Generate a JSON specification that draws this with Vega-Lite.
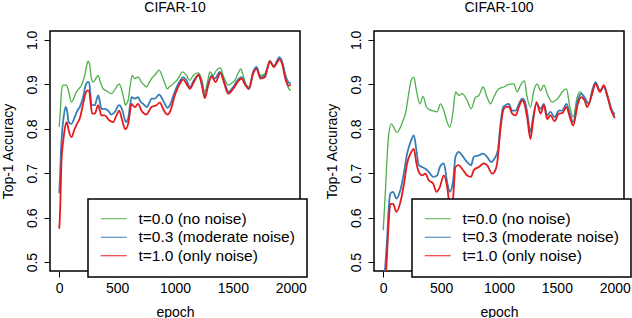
{
"$schema": "https://vega.github.io/schema/vega-lite/v6.json",
"padding": {"left": 0, "top": 0, "right": 0, "bottom": 0},
"background": "white",
"config": {
  "font": "Liberation Sans",
  "view": {"stroke": "black", "strokeWidth": 1.5},
  "title": {"font": "Liberation Sans", "fontSize": 14, "fontWeight": "normal", "color": "black", "offset": 15, "frame": "group", "anchor": "middle"},
  "axis": {"grid": false, "domain": false, "tickColor": "black", "tickSize": 6, "tickWidth": 1, "labelFont": "Liberation Sans", "labelFontSize": 14, "labelColor": "black", "titleFont": "Liberation Sans", "titleFontSize": 14, "titleFontWeight": "normal", "titleColor": "black", "labelFlush": false, "labelOverlap": false},
  "legend": {"strokeWidth": 1.5}
},
"datasets": {
"c10": [
{"t":"t=0.0 (no noise)","epoch":0,"acc":0.804},{"t":"t=0.0 (no noise)","epoch":10,"acc":0.845},{"t":"t=0.0 (no noise)","epoch":20,"acc":0.885},{"t":"t=0.0 (no noise)","epoch":33,"acc":0.898},{"t":"t=0.0 (no noise)","epoch":61,"acc":0.898},{"t":"t=0.0 (no noise)","epoch":80,"acc":0.885},{"t":"t=0.0 (no noise)","epoch":105,"acc":0.860},{"t":"t=0.0 (no noise)","epoch":125,"acc":0.868},{"t":"t=0.0 (no noise)","epoch":148,"acc":0.883},{"t":"t=0.0 (no noise)","epoch":170,"acc":0.890},{"t":"t=0.0 (no noise)","epoch":192,"acc":0.898},{"t":"t=0.0 (no noise)","epoch":215,"acc":0.915},{"t":"t=0.0 (no noise)","epoch":235,"acc":0.940},{"t":"t=0.0 (no noise)","epoch":249,"acc":0.952},{"t":"t=0.0 (no noise)","epoch":262,"acc":0.945},{"t":"t=0.0 (no noise)","epoch":278,"acc":0.913},{"t":"t=0.0 (no noise)","epoch":292,"acc":0.905},{"t":"t=0.0 (no noise)","epoch":307,"acc":0.909},{"t":"t=0.0 (no noise)","epoch":336,"acc":0.920},{"t":"t=0.0 (no noise)","epoch":355,"acc":0.905},{"t":"t=0.0 (no noise)","epoch":379,"acc":0.890},{"t":"t=0.0 (no noise)","epoch":410,"acc":0.885},{"t":"t=0.0 (no noise)","epoch":451,"acc":0.879},{"t":"t=0.0 (no noise)","epoch":480,"acc":0.888},{"t":"t=0.0 (no noise)","epoch":517,"acc":0.901},{"t":"t=0.0 (no noise)","epoch":537,"acc":0.890},{"t":"t=0.0 (no noise)","epoch":560,"acc":0.865},{"t":"t=0.0 (no noise)","epoch":572,"acc":0.853},{"t":"t=0.0 (no noise)","epoch":585,"acc":0.858},{"t":"t=0.0 (no noise)","epoch":595,"acc":0.864},{"t":"t=0.0 (no noise)","epoch":612,"acc":0.895},{"t":"t=0.0 (no noise)","epoch":630,"acc":0.920},{"t":"t=0.0 (no noise)","epoch":653,"acc":0.913},{"t":"t=0.0 (no noise)","epoch":681,"acc":0.917},{"t":"t=0.0 (no noise)","epoch":710,"acc":0.905},{"t":"t=0.0 (no noise)","epoch":735,"acc":0.898},{"t":"t=0.0 (no noise)","epoch":753,"acc":0.894},{"t":"t=0.0 (no noise)","epoch":775,"acc":0.903},{"t":"t=0.0 (no noise)","epoch":797,"acc":0.913},{"t":"t=0.0 (no noise)","epoch":830,"acc":0.922},{"t":"t=0.0 (no noise)","epoch":863,"acc":0.932},{"t":"t=0.0 (no noise)","epoch":880,"acc":0.925},{"t":"t=0.0 (no noise)","epoch":897,"acc":0.913},{"t":"t=0.0 (no noise)","epoch":915,"acc":0.900},{"t":"t=0.0 (no noise)","epoch":932,"acc":0.890},{"t":"t=0.0 (no noise)","epoch":955,"acc":0.895},{"t":"t=0.0 (no noise)","epoch":984,"acc":0.901},{"t":"t=0.0 (no noise)","epoch":1027,"acc":0.913},{"t":"t=0.0 (no noise)","epoch":1065,"acc":0.928},{"t":"t=0.0 (no noise)","epoch":1099,"acc":0.920},{"t":"t=0.0 (no noise)","epoch":1128,"acc":0.909},{"t":"t=0.0 (no noise)","epoch":1157,"acc":0.920},{"t":"t=0.0 (no noise)","epoch":1200,"acc":0.926},{"t":"t=0.0 (no noise)","epoch":1229,"acc":0.913},{"t":"t=0.0 (no noise)","epoch":1258,"acc":0.883},{"t":"t=0.0 (no noise)","epoch":1280,"acc":0.905},{"t":"t=0.0 (no noise)","epoch":1301,"acc":0.928},{"t":"t=0.0 (no noise)","epoch":1330,"acc":0.920},{"t":"t=0.0 (no noise)","epoch":1359,"acc":0.932},{"t":"t=0.0 (no noise)","epoch":1393,"acc":0.937},{"t":"t=0.0 (no noise)","epoch":1416,"acc":0.920},{"t":"t=0.0 (no noise)","epoch":1440,"acc":0.905},{"t":"t=0.0 (no noise)","epoch":1460,"acc":0.898},{"t":"t=0.0 (no noise)","epoch":1490,"acc":0.903},{"t":"t=0.0 (no noise)","epoch":1517,"acc":0.909},{"t":"t=0.0 (no noise)","epoch":1545,"acc":0.925},{"t":"t=0.0 (no noise)","epoch":1569,"acc":0.935},{"t":"t=0.0 (no noise)","epoch":1589,"acc":0.920},{"t":"t=0.0 (no noise)","epoch":1618,"acc":0.898},{"t":"t=0.0 (no noise)","epoch":1647,"acc":0.894},{"t":"t=0.0 (no noise)","epoch":1675,"acc":0.928},{"t":"t=0.0 (no noise)","epoch":1704,"acc":0.937},{"t":"t=0.0 (no noise)","epoch":1739,"acc":0.920},{"t":"t=0.0 (no noise)","epoch":1776,"acc":0.924},{"t":"t=0.0 (no noise)","epoch":1800,"acc":0.940},{"t":"t=0.0 (no noise)","epoch":1819,"acc":0.950},{"t":"t=0.0 (no noise)","epoch":1854,"acc":0.939},{"t":"t=0.0 (no noise)","epoch":1880,"acc":0.950},{"t":"t=0.0 (no noise)","epoch":1900,"acc":0.959},{"t":"t=0.0 (no noise)","epoch":1915,"acc":0.955},{"t":"t=0.0 (no noise)","epoch":1929,"acc":0.946},{"t":"t=0.0 (no noise)","epoch":1945,"acc":0.925},{"t":"t=0.0 (no noise)","epoch":1963,"acc":0.905},{"t":"t=0.0 (no noise)","epoch":1980,"acc":0.892},{"t":"t=0.0 (no noise)","epoch":2000,"acc":0.886},
{"t":"t=0.3 (moderate noise)","epoch":0,"acc":0.655},{"t":"t=0.3 (moderate noise)","epoch":8,"acc":0.70},{"t":"t=0.3 (moderate noise)","epoch":15,"acc":0.75},{"t":"t=0.3 (moderate noise)","epoch":27,"acc":0.800},{"t":"t=0.3 (moderate noise)","epoch":40,"acc":0.830},{"t":"t=0.3 (moderate noise)","epoch":55,"acc":0.849},{"t":"t=0.3 (moderate noise)","epoch":68,"acc":0.840},{"t":"t=0.3 (moderate noise)","epoch":81,"acc":0.815},{"t":"t=0.3 (moderate noise)","epoch":105,"acc":0.811},{"t":"t=0.3 (moderate noise)","epoch":133,"acc":0.826},{"t":"t=0.3 (moderate noise)","epoch":155,"acc":0.840},{"t":"t=0.3 (moderate noise)","epoch":177,"acc":0.849},{"t":"t=0.3 (moderate noise)","epoch":206,"acc":0.871},{"t":"t=0.3 (moderate noise)","epoch":225,"acc":0.895},{"t":"t=0.3 (moderate noise)","epoch":245,"acc":0.905},{"t":"t=0.3 (moderate noise)","epoch":258,"acc":0.905},{"t":"t=0.3 (moderate noise)","epoch":270,"acc":0.875},{"t":"t=0.3 (moderate noise)","epoch":278,"acc":0.853},{"t":"t=0.3 (moderate noise)","epoch":307,"acc":0.853},{"t":"t=0.3 (moderate noise)","epoch":325,"acc":0.868},{"t":"t=0.3 (moderate noise)","epoch":336,"acc":0.875},{"t":"t=0.3 (moderate noise)","epoch":350,"acc":0.862},{"t":"t=0.3 (moderate noise)","epoch":364,"acc":0.845},{"t":"t=0.3 (moderate noise)","epoch":393,"acc":0.845},{"t":"t=0.3 (moderate noise)","epoch":422,"acc":0.841},{"t":"t=0.3 (moderate noise)","epoch":451,"acc":0.832},{"t":"t=0.3 (moderate noise)","epoch":480,"acc":0.838},{"t":"t=0.3 (moderate noise)","epoch":517,"acc":0.853},{"t":"t=0.3 (moderate noise)","epoch":546,"acc":0.841},{"t":"t=0.3 (moderate noise)","epoch":565,"acc":0.822},{"t":"t=0.3 (moderate noise)","epoch":575,"acc":0.815},{"t":"t=0.3 (moderate noise)","epoch":595,"acc":0.823},{"t":"t=0.3 (moderate noise)","epoch":610,"acc":0.850},{"t":"t=0.3 (moderate noise)","epoch":624,"acc":0.871},{"t":"t=0.3 (moderate noise)","epoch":653,"acc":0.868},{"t":"t=0.3 (moderate noise)","epoch":681,"acc":0.871},{"t":"t=0.3 (moderate noise)","epoch":700,"acc":0.862},{"t":"t=0.3 (moderate noise)","epoch":725,"acc":0.856},{"t":"t=0.3 (moderate noise)","epoch":759,"acc":0.849},{"t":"t=0.3 (moderate noise)","epoch":780,"acc":0.860},{"t":"t=0.3 (moderate noise)","epoch":797,"acc":0.868},{"t":"t=0.3 (moderate noise)","epoch":826,"acc":0.868},{"t":"t=0.3 (moderate noise)","epoch":863,"acc":0.877},{"t":"t=0.3 (moderate noise)","epoch":897,"acc":0.864},{"t":"t=0.3 (moderate noise)","epoch":915,"acc":0.855},{"t":"t=0.3 (moderate noise)","epoch":932,"acc":0.847},{"t":"t=0.3 (moderate noise)","epoch":961,"acc":0.856},{"t":"t=0.3 (moderate noise)","epoch":980,"acc":0.870},{"t":"t=0.3 (moderate noise)","epoch":998,"acc":0.883},{"t":"t=0.3 (moderate noise)","epoch":1020,"acc":0.897},{"t":"t=0.3 (moderate noise)","epoch":1042,"acc":0.907},{"t":"t=0.3 (moderate noise)","epoch":1070,"acc":0.916},{"t":"t=0.3 (moderate noise)","epoch":1099,"acc":0.909},{"t":"t=0.3 (moderate noise)","epoch":1128,"acc":0.894},{"t":"t=0.3 (moderate noise)","epoch":1163,"acc":0.909},{"t":"t=0.3 (moderate noise)","epoch":1200,"acc":0.920},{"t":"t=0.3 (moderate noise)","epoch":1229,"acc":0.905},{"t":"t=0.3 (moderate noise)","epoch":1258,"acc":0.874},{"t":"t=0.3 (moderate noise)","epoch":1287,"acc":0.901},{"t":"t=0.3 (moderate noise)","epoch":1316,"acc":0.920},{"t":"t=0.3 (moderate noise)","epoch":1345,"acc":0.913},{"t":"t=0.3 (moderate noise)","epoch":1387,"acc":0.928},{"t":"t=0.3 (moderate noise)","epoch":1416,"acc":0.913},{"t":"t=0.3 (moderate noise)","epoch":1440,"acc":0.895},{"t":"t=0.3 (moderate noise)","epoch":1460,"acc":0.883},{"t":"t=0.3 (moderate noise)","epoch":1503,"acc":0.894},{"t":"t=0.3 (moderate noise)","epoch":1546,"acc":0.911},{"t":"t=0.3 (moderate noise)","epoch":1575,"acc":0.916},{"t":"t=0.3 (moderate noise)","epoch":1604,"acc":0.901},{"t":"t=0.3 (moderate noise)","epoch":1638,"acc":0.890},{"t":"t=0.3 (moderate noise)","epoch":1675,"acc":0.928},{"t":"t=0.3 (moderate noise)","epoch":1704,"acc":0.939},{"t":"t=0.3 (moderate noise)","epoch":1739,"acc":0.916},{"t":"t=0.3 (moderate noise)","epoch":1776,"acc":0.920},{"t":"t=0.3 (moderate noise)","epoch":1800,"acc":0.938},{"t":"t=0.3 (moderate noise)","epoch":1819,"acc":0.952},{"t":"t=0.3 (moderate noise)","epoch":1854,"acc":0.941},{"t":"t=0.3 (moderate noise)","epoch":1880,"acc":0.952},{"t":"t=0.3 (moderate noise)","epoch":1900,"acc":0.961},{"t":"t=0.3 (moderate noise)","epoch":1929,"acc":0.948},{"t":"t=0.3 (moderate noise)","epoch":1945,"acc":0.930},{"t":"t=0.3 (moderate noise)","epoch":1963,"acc":0.913},{"t":"t=0.3 (moderate noise)","epoch":1980,"acc":0.905},{"t":"t=0.3 (moderate noise)","epoch":2000,"acc":0.901},
{"t":"t=1.0 (only noise)","epoch":0,"acc":0.575},{"t":"t=1.0 (only noise)","epoch":8,"acc":0.62},{"t":"t=1.0 (only noise)","epoch":12,"acc":0.66},{"t":"t=1.0 (only noise)","epoch":18,"acc":0.72},{"t":"t=1.0 (only noise)","epoch":25,"acc":0.75},{"t":"t=1.0 (only noise)","epoch":33,"acc":0.770},{"t":"t=1.0 (only noise)","epoch":48,"acc":0.800},{"t":"t=1.0 (only noise)","epoch":62,"acc":0.815},{"t":"t=1.0 (only noise)","epoch":69,"acc":0.812},{"t":"t=1.0 (only noise)","epoch":81,"acc":0.797},{"t":"t=1.0 (only noise)","epoch":105,"acc":0.781},{"t":"t=1.0 (only noise)","epoch":133,"acc":0.800},{"t":"t=1.0 (only noise)","epoch":155,"acc":0.812},{"t":"t=1.0 (only noise)","epoch":177,"acc":0.823},{"t":"t=1.0 (only noise)","epoch":206,"acc":0.856},{"t":"t=1.0 (only noise)","epoch":225,"acc":0.878},{"t":"t=1.0 (only noise)","epoch":240,"acc":0.886},{"t":"t=1.0 (only noise)","epoch":258,"acc":0.886},{"t":"t=1.0 (only noise)","epoch":270,"acc":0.860},{"t":"t=1.0 (only noise)","epoch":284,"acc":0.834},{"t":"t=1.0 (only noise)","epoch":307,"acc":0.834},{"t":"t=1.0 (only noise)","epoch":336,"acc":0.853},{"t":"t=1.0 (only noise)","epoch":350,"acc":0.842},{"t":"t=1.0 (only noise)","epoch":364,"acc":0.830},{"t":"t=1.0 (only noise)","epoch":393,"acc":0.830},{"t":"t=1.0 (only noise)","epoch":431,"acc":0.819},{"t":"t=1.0 (only noise)","epoch":466,"acc":0.815},{"t":"t=1.0 (only noise)","epoch":494,"acc":0.830},{"t":"t=1.0 (only noise)","epoch":517,"acc":0.841},{"t":"t=1.0 (only noise)","epoch":537,"acc":0.826},{"t":"t=1.0 (only noise)","epoch":555,"acc":0.808},{"t":"t=1.0 (only noise)","epoch":572,"acc":0.799},{"t":"t=1.0 (only noise)","epoch":595,"acc":0.811},{"t":"t=1.0 (only noise)","epoch":610,"acc":0.835},{"t":"t=1.0 (only noise)","epoch":624,"acc":0.856},{"t":"t=1.0 (only noise)","epoch":653,"acc":0.849},{"t":"t=1.0 (only noise)","epoch":681,"acc":0.856},{"t":"t=1.0 (only noise)","epoch":710,"acc":0.841},{"t":"t=1.0 (only noise)","epoch":753,"acc":0.832},{"t":"t=1.0 (only noise)","epoch":775,"acc":0.840},{"t":"t=1.0 (only noise)","epoch":797,"acc":0.849},{"t":"t=1.0 (only noise)","epoch":840,"acc":0.853},{"t":"t=1.0 (only noise)","epoch":869,"acc":0.859},{"t":"t=1.0 (only noise)","epoch":897,"acc":0.845},{"t":"t=1.0 (only noise)","epoch":932,"acc":0.832},{"t":"t=1.0 (only noise)","epoch":961,"acc":0.841},{"t":"t=1.0 (only noise)","epoch":980,"acc":0.858},{"t":"t=1.0 (only noise)","epoch":998,"acc":0.875},{"t":"t=1.0 (only noise)","epoch":1020,"acc":0.890},{"t":"t=1.0 (only noise)","epoch":1042,"acc":0.901},{"t":"t=1.0 (only noise)","epoch":1070,"acc":0.911},{"t":"t=1.0 (only noise)","epoch":1099,"acc":0.901},{"t":"t=1.0 (only noise)","epoch":1128,"acc":0.890},{"t":"t=1.0 (only noise)","epoch":1163,"acc":0.905},{"t":"t=1.0 (only noise)","epoch":1206,"acc":0.922},{"t":"t=1.0 (only noise)","epoch":1229,"acc":0.901},{"t":"t=1.0 (only noise)","epoch":1258,"acc":0.869},{"t":"t=1.0 (only noise)","epoch":1287,"acc":0.898},{"t":"t=1.0 (only noise)","epoch":1316,"acc":0.918},{"t":"t=1.0 (only noise)","epoch":1350,"acc":0.905},{"t":"t=1.0 (only noise)","epoch":1393,"acc":0.926},{"t":"t=1.0 (only noise)","epoch":1422,"acc":0.905},{"t":"t=1.0 (only noise)","epoch":1460,"acc":0.879},{"t":"t=1.0 (only noise)","epoch":1503,"acc":0.890},{"t":"t=1.0 (only noise)","epoch":1546,"acc":0.907},{"t":"t=1.0 (only noise)","epoch":1575,"acc":0.913},{"t":"t=1.0 (only noise)","epoch":1604,"acc":0.900},{"t":"t=1.0 (only noise)","epoch":1638,"acc":0.890},{"t":"t=1.0 (only noise)","epoch":1675,"acc":0.924},{"t":"t=1.0 (only noise)","epoch":1704,"acc":0.935},{"t":"t=1.0 (only noise)","epoch":1739,"acc":0.913},{"t":"t=1.0 (only noise)","epoch":1776,"acc":0.916},{"t":"t=1.0 (only noise)","epoch":1800,"acc":0.937},{"t":"t=1.0 (only noise)","epoch":1819,"acc":0.952},{"t":"t=1.0 (only noise)","epoch":1854,"acc":0.939},{"t":"t=1.0 (only noise)","epoch":1880,"acc":0.948},{"t":"t=1.0 (only noise)","epoch":1900,"acc":0.956},{"t":"t=1.0 (only noise)","epoch":1929,"acc":0.943},{"t":"t=1.0 (only noise)","epoch":1945,"acc":0.922},{"t":"t=1.0 (only noise)","epoch":1963,"acc":0.905},{"t":"t=1.0 (only noise)","epoch":1980,"acc":0.897},{"t":"t=1.0 (only noise)","epoch":2000,"acc":0.898}
],
"c100": [
{"t":"t=0.0 (no noise)","epoch":0,"acc":0.572},{"t":"t=0.0 (no noise)","epoch":19,"acc":0.662},{"t":"t=0.0 (no noise)","epoch":33,"acc":0.736},{"t":"t=0.0 (no noise)","epoch":48,"acc":0.789},{"t":"t=0.0 (no noise)","epoch":69,"acc":0.811},{"t":"t=0.0 (no noise)","epoch":91,"acc":0.803},{"t":"t=0.0 (no noise)","epoch":114,"acc":0.792},{"t":"t=0.0 (no noise)","epoch":148,"acc":0.803},{"t":"t=0.0 (no noise)","epoch":170,"acc":0.818},{"t":"t=0.0 (no noise)","epoch":192,"acc":0.834},{"t":"t=0.0 (no noise)","epoch":220,"acc":0.879},{"t":"t=0.0 (no noise)","epoch":241,"acc":0.909},{"t":"t=0.0 (no noise)","epoch":264,"acc":0.916},{"t":"t=0.0 (no noise)","epoch":287,"acc":0.886},{"t":"t=0.0 (no noise)","epoch":316,"acc":0.856},{"t":"t=0.0 (no noise)","epoch":344,"acc":0.873},{"t":"t=0.0 (no noise)","epoch":373,"acc":0.849},{"t":"t=0.0 (no noise)","epoch":400,"acc":0.843},{"t":"t=0.0 (no noise)","epoch":422,"acc":0.841},{"t":"t=0.0 (no noise)","epoch":466,"acc":0.838},{"t":"t=0.0 (no noise)","epoch":494,"acc":0.856},{"t":"t=0.0 (no noise)","epoch":523,"acc":0.841},{"t":"t=0.0 (no noise)","epoch":552,"acc":0.815},{"t":"t=0.0 (no noise)","epoch":575,"acc":0.803},{"t":"t=0.0 (no noise)","epoch":604,"acc":0.841},{"t":"t=0.0 (no noise)","epoch":624,"acc":0.883},{"t":"t=0.0 (no noise)","epoch":653,"acc":0.875},{"t":"t=0.0 (no noise)","epoch":681,"acc":0.879},{"t":"t=0.0 (no noise)","epoch":725,"acc":0.864},{"t":"t=0.0 (no noise)","epoch":759,"acc":0.845},{"t":"t=0.0 (no noise)","epoch":797,"acc":0.871},{"t":"t=0.0 (no noise)","epoch":826,"acc":0.875},{"t":"t=0.0 (no noise)","epoch":863,"acc":0.894},{"t":"t=0.0 (no noise)","epoch":897,"acc":0.871},{"t":"t=0.0 (no noise)","epoch":926,"acc":0.856},{"t":"t=0.0 (no noise)","epoch":955,"acc":0.871},{"t":"t=0.0 (no noise)","epoch":998,"acc":0.890},{"t":"t=0.0 (no noise)","epoch":1042,"acc":0.894},{"t":"t=0.0 (no noise)","epoch":1085,"acc":0.900},{"t":"t=0.0 (no noise)","epoch":1128,"acc":0.901},{"t":"t=0.0 (no noise)","epoch":1157,"acc":0.883},{"t":"t=0.0 (no noise)","epoch":1186,"acc":0.898},{"t":"t=0.0 (no noise)","epoch":1220,"acc":0.908},{"t":"t=0.0 (no noise)","epoch":1243,"acc":0.871},{"t":"t=0.0 (no noise)","epoch":1272,"acc":0.849},{"t":"t=0.0 (no noise)","epoch":1301,"acc":0.886},{"t":"t=0.0 (no noise)","epoch":1330,"acc":0.901},{"t":"t=0.0 (no noise)","epoch":1359,"acc":0.886},{"t":"t=0.0 (no noise)","epoch":1388,"acc":0.898},{"t":"t=0.0 (no noise)","epoch":1416,"acc":0.879},{"t":"t=0.0 (no noise)","epoch":1460,"acc":0.860},{"t":"t=0.0 (no noise)","epoch":1517,"acc":0.871},{"t":"t=0.0 (no noise)","epoch":1546,"acc":0.883},{"t":"t=0.0 (no noise)","epoch":1583,"acc":0.890},{"t":"t=0.0 (no noise)","epoch":1612,"acc":0.849},{"t":"t=0.0 (no noise)","epoch":1641,"acc":0.826},{"t":"t=0.0 (no noise)","epoch":1675,"acc":0.871},{"t":"t=0.0 (no noise)","epoch":1704,"acc":0.883},{"t":"t=0.0 (no noise)","epoch":1733,"acc":0.868},{"t":"t=0.0 (no noise)","epoch":1776,"acc":0.856},{"t":"t=0.0 (no noise)","epoch":1805,"acc":0.879},{"t":"t=0.0 (no noise)","epoch":1834,"acc":0.905},{"t":"t=0.0 (no noise)","epoch":1872,"acc":0.886},{"t":"t=0.0 (no noise)","epoch":1906,"acc":0.895},{"t":"t=0.0 (no noise)","epoch":1935,"acc":0.879},{"t":"t=0.0 (no noise)","epoch":1970,"acc":0.845},{"t":"t=0.0 (no noise)","epoch":2000,"acc":0.826},
{"t":"t=0.3 (moderate noise)","epoch":0,"acc":0.44},{"t":"t=0.3 (moderate noise)","epoch":20,"acc":0.50},{"t":"t=0.3 (moderate noise)","epoch":33,"acc":0.55},{"t":"t=0.3 (moderate noise)","epoch":48,"acc":0.624},{"t":"t=0.3 (moderate noise)","epoch":61,"acc":0.654},{"t":"t=0.3 (moderate noise)","epoch":85,"acc":0.658},{"t":"t=0.3 (moderate noise)","epoch":114,"acc":0.643},{"t":"t=0.3 (moderate noise)","epoch":148,"acc":0.662},{"t":"t=0.3 (moderate noise)","epoch":177,"acc":0.699},{"t":"t=0.3 (moderate noise)","epoch":206,"acc":0.744},{"t":"t=0.3 (moderate noise)","epoch":241,"acc":0.774},{"t":"t=0.3 (moderate noise)","epoch":264,"acc":0.785},{"t":"t=0.3 (moderate noise)","epoch":287,"acc":0.751},{"t":"t=0.3 (moderate noise)","epoch":307,"acc":0.718},{"t":"t=0.3 (moderate noise)","epoch":336,"acc":0.714},{"t":"t=0.3 (moderate noise)","epoch":364,"acc":0.710},{"t":"t=0.3 (moderate noise)","epoch":393,"acc":0.703},{"t":"t=0.3 (moderate noise)","epoch":431,"acc":0.692},{"t":"t=0.3 (moderate noise)","epoch":466,"acc":0.695},{"t":"t=0.3 (moderate noise)","epoch":489,"acc":0.714},{"t":"t=0.3 (moderate noise)","epoch":523,"acc":0.722},{"t":"t=0.3 (moderate noise)","epoch":552,"acc":0.680},{"t":"t=0.3 (moderate noise)","epoch":575,"acc":0.658},{"t":"t=0.3 (moderate noise)","epoch":604,"acc":0.684},{"t":"t=0.3 (moderate noise)","epoch":624,"acc":0.737},{"t":"t=0.3 (moderate noise)","epoch":653,"acc":0.748},{"t":"t=0.3 (moderate noise)","epoch":681,"acc":0.740},{"t":"t=0.3 (moderate noise)","epoch":725,"acc":0.725},{"t":"t=0.3 (moderate noise)","epoch":759,"acc":0.718},{"t":"t=0.3 (moderate noise)","epoch":782,"acc":0.737},{"t":"t=0.3 (moderate noise)","epoch":826,"acc":0.740},{"t":"t=0.3 (moderate noise)","epoch":863,"acc":0.744},{"t":"t=0.3 (moderate noise)","epoch":897,"acc":0.737},{"t":"t=0.3 (moderate noise)","epoch":932,"acc":0.725},{"t":"t=0.3 (moderate noise)","epoch":961,"acc":0.733},{"t":"t=0.3 (moderate noise)","epoch":990,"acc":0.751},{"t":"t=0.3 (moderate noise)","epoch":1013,"acc":0.811},{"t":"t=0.3 (moderate noise)","epoch":1036,"acc":0.849},{"t":"t=0.3 (moderate noise)","epoch":1056,"acc":0.853},{"t":"t=0.3 (moderate noise)","epoch":1085,"acc":0.856},{"t":"t=0.3 (moderate noise)","epoch":1114,"acc":0.841},{"t":"t=0.3 (moderate noise)","epoch":1143,"acc":0.841},{"t":"t=0.3 (moderate noise)","epoch":1172,"acc":0.856},{"t":"t=0.3 (moderate noise)","epoch":1200,"acc":0.868},{"t":"t=0.3 (moderate noise)","epoch":1220,"acc":0.864},{"t":"t=0.3 (moderate noise)","epoch":1243,"acc":0.838},{"t":"t=0.3 (moderate noise)","epoch":1272,"acc":0.792},{"t":"t=0.3 (moderate noise)","epoch":1295,"acc":0.826},{"t":"t=0.3 (moderate noise)","epoch":1324,"acc":0.856},{"t":"t=0.3 (moderate noise)","epoch":1359,"acc":0.845},{"t":"t=0.3 (moderate noise)","epoch":1388,"acc":0.856},{"t":"t=0.3 (moderate noise)","epoch":1416,"acc":0.830},{"t":"t=0.3 (moderate noise)","epoch":1445,"acc":0.838},{"t":"t=0.3 (moderate noise)","epoch":1480,"acc":0.826},{"t":"t=0.3 (moderate noise)","epoch":1517,"acc":0.841},{"t":"t=0.3 (moderate noise)","epoch":1546,"acc":0.841},{"t":"t=0.3 (moderate noise)","epoch":1583,"acc":0.856},{"t":"t=0.3 (moderate noise)","epoch":1612,"acc":0.834},{"t":"t=0.3 (moderate noise)","epoch":1641,"acc":0.815},{"t":"t=0.3 (moderate noise)","epoch":1681,"acc":0.864},{"t":"t=0.3 (moderate noise)","epoch":1710,"acc":0.879},{"t":"t=0.3 (moderate noise)","epoch":1739,"acc":0.871},{"t":"t=0.3 (moderate noise)","epoch":1776,"acc":0.856},{"t":"t=0.3 (moderate noise)","epoch":1805,"acc":0.886},{"t":"t=0.3 (moderate noise)","epoch":1834,"acc":0.905},{"t":"t=0.3 (moderate noise)","epoch":1872,"acc":0.886},{"t":"t=0.3 (moderate noise)","epoch":1906,"acc":0.894},{"t":"t=0.3 (moderate noise)","epoch":1935,"acc":0.875},{"t":"t=0.3 (moderate noise)","epoch":1970,"acc":0.845},{"t":"t=0.3 (moderate noise)","epoch":2000,"acc":0.832},
{"t":"t=1.0 (only noise)","epoch":0,"acc":0.42},{"t":"t=1.0 (only noise)","epoch":25,"acc":0.48},{"t":"t=1.0 (only noise)","epoch":35,"acc":0.53},{"t":"t=1.0 (only noise)","epoch":48,"acc":0.594},{"t":"t=1.0 (only noise)","epoch":61,"acc":0.631},{"t":"t=1.0 (only noise)","epoch":85,"acc":0.631},{"t":"t=1.0 (only noise)","epoch":114,"acc":0.613},{"t":"t=1.0 (only noise)","epoch":148,"acc":0.635},{"t":"t=1.0 (only noise)","epoch":177,"acc":0.673},{"t":"t=1.0 (only noise)","epoch":206,"acc":0.722},{"t":"t=1.0 (only noise)","epoch":235,"acc":0.744},{"t":"t=1.0 (only noise)","epoch":264,"acc":0.755},{"t":"t=1.0 (only noise)","epoch":287,"acc":0.722},{"t":"t=1.0 (only noise)","epoch":307,"acc":0.703},{"t":"t=1.0 (only noise)","epoch":336,"acc":0.695},{"t":"t=1.0 (only noise)","epoch":364,"acc":0.699},{"t":"t=1.0 (only noise)","epoch":393,"acc":0.684},{"t":"t=1.0 (only noise)","epoch":431,"acc":0.677},{"t":"t=1.0 (only noise)","epoch":460,"acc":0.658},{"t":"t=1.0 (only noise)","epoch":489,"acc":0.669},{"t":"t=1.0 (only noise)","epoch":523,"acc":0.695},{"t":"t=1.0 (only noise)","epoch":552,"acc":0.669},{"t":"t=1.0 (only noise)","epoch":575,"acc":0.624},{"t":"t=1.0 (only noise)","epoch":590,"acc":0.615},{"t":"t=1.0 (only noise)","epoch":604,"acc":0.646},{"t":"t=1.0 (only noise)","epoch":624,"acc":0.714},{"t":"t=1.0 (only noise)","epoch":653,"acc":0.718},{"t":"t=1.0 (only noise)","epoch":681,"acc":0.710},{"t":"t=1.0 (only noise)","epoch":725,"acc":0.695},{"t":"t=1.0 (only noise)","epoch":759,"acc":0.692},{"t":"t=1.0 (only noise)","epoch":782,"acc":0.707},{"t":"t=1.0 (only noise)","epoch":826,"acc":0.714},{"t":"t=1.0 (only noise)","epoch":869,"acc":0.722},{"t":"t=1.0 (only noise)","epoch":897,"acc":0.718},{"t":"t=1.0 (only noise)","epoch":941,"acc":0.699},{"t":"t=1.0 (only noise)","epoch":961,"acc":0.703},{"t":"t=1.0 (only noise)","epoch":984,"acc":0.722},{"t":"t=1.0 (only noise)","epoch":1013,"acc":0.800},{"t":"t=1.0 (only noise)","epoch":1036,"acc":0.841},{"t":"t=1.0 (only noise)","epoch":1056,"acc":0.849},{"t":"t=1.0 (only noise)","epoch":1085,"acc":0.850},{"t":"t=1.0 (only noise)","epoch":1114,"acc":0.834},{"t":"t=1.0 (only noise)","epoch":1143,"acc":0.830},{"t":"t=1.0 (only noise)","epoch":1172,"acc":0.849},{"t":"t=1.0 (only noise)","epoch":1200,"acc":0.864},{"t":"t=1.0 (only noise)","epoch":1220,"acc":0.856},{"t":"t=1.0 (only noise)","epoch":1243,"acc":0.826},{"t":"t=1.0 (only noise)","epoch":1272,"acc":0.777},{"t":"t=1.0 (only noise)","epoch":1295,"acc":0.819},{"t":"t=1.0 (only noise)","epoch":1324,"acc":0.860},{"t":"t=1.0 (only noise)","epoch":1359,"acc":0.834},{"t":"t=1.0 (only noise)","epoch":1388,"acc":0.853},{"t":"t=1.0 (only noise)","epoch":1416,"acc":0.822},{"t":"t=1.0 (only noise)","epoch":1445,"acc":0.830},{"t":"t=1.0 (only noise)","epoch":1480,"acc":0.817},{"t":"t=1.0 (only noise)","epoch":1517,"acc":0.834},{"t":"t=1.0 (only noise)","epoch":1546,"acc":0.835},{"t":"t=1.0 (only noise)","epoch":1583,"acc":0.849},{"t":"t=1.0 (only noise)","epoch":1612,"acc":0.826},{"t":"t=1.0 (only noise)","epoch":1641,"acc":0.807},{"t":"t=1.0 (only noise)","epoch":1681,"acc":0.856},{"t":"t=1.0 (only noise)","epoch":1710,"acc":0.871},{"t":"t=1.0 (only noise)","epoch":1739,"acc":0.864},{"t":"t=1.0 (only noise)","epoch":1762,"acc":0.849},{"t":"t=1.0 (only noise)","epoch":1805,"acc":0.879},{"t":"t=1.0 (only noise)","epoch":1834,"acc":0.901},{"t":"t=1.0 (only noise)","epoch":1872,"acc":0.883},{"t":"t=1.0 (only noise)","epoch":1906,"acc":0.898},{"t":"t=1.0 (only noise)","epoch":1935,"acc":0.875},{"t":"t=1.0 (only noise)","epoch":1970,"acc":0.841},{"t":"t=1.0 (only noise)","epoch":2000,"acc":0.824}
]
},
"hconcat": [
{
  "title": "CIFAR-10",
  "width": 250, "height": 240,
  "data": {"name": "c10"},
  "encoding": {
    "x": {"field": "epoch", "type": "quantitative", "scale": {"domain": [-80, 2080], "nice": false, "zero": false}, "axis": {"values": [0, 500, 1000, 1500, 2000], "format": "d", "title": "epoch", "labelPadding": 4, "titlePadding": 10}},
    "y": {"field": "acc", "type": "quantitative", "scale": {"domain": [0.48, 1.02], "nice": false, "zero": false}, "axis": {"values": [0.5, 0.6, 0.7, 0.8, 0.9, 1.0], "format": ".1f", "title": "Top-1 Accuracy", "labelAngle": -90, "labelAlign": "center", "labelBaseline": "alphabetic", "labelPadding": 8, "titlePadding": 10}},
    "color": {"field": "t", "type": "nominal", "scale": {"domain": ["t=0.0 (no noise)", "t=0.3 (moderate noise)", "t=1.0 (only noise)"], "range": ["#4DAF4A", "#377EB8", "#E41A1C"]},
      "legend": {"orient": "none", "legendX": 38, "legendY": 168, "title": null, "symbolType": "M-2,0H2", "symbolSize": 169, "symbolOffset": 6, "symbolStrokeWidth": 1, "labelFontSize": 15.5, "labelFont": "Liberation Sans", "labelColor": "black", "labelOffset": 17, "rowPadding": 1.5, "padding": 12, "fillColor": "white", "strokeColor": "black", "labelLimit": 400}}
  },
  "layer": [
    {"transform": [{"filter": {"field": "t", "equal": "t=0.0 (no noise)"}}], "mark": {"type": "line", "clip": true, "interpolate": "monotone", "strokeWidth": 1.3}},
    {"transform": [{"filter": {"field": "t", "oneOf": ["t=0.3 (moderate noise)", "t=1.0 (only noise)"]}}], "mark": {"type": "line", "clip": true, "interpolate": "monotone", "strokeWidth": 1.8}}
  ]
},
{
  "title": "CIFAR-100",
  "width": 250, "height": 240,
  "data": {"name": "c100"},
  "encoding": {
    "x": {"field": "epoch", "type": "quantitative", "scale": {"domain": [-80, 2080], "nice": false, "zero": false}, "axis": {"values": [0, 500, 1000, 1500, 2000], "format": "d", "title": "epoch", "labelPadding": 4, "titlePadding": 10}},
    "y": {"field": "acc", "type": "quantitative", "scale": {"domain": [0.48, 1.02], "nice": false, "zero": false}, "axis": {"values": [0.5, 0.6, 0.7, 0.8, 0.9, 1.0], "format": ".1f", "title": "Top-1 Accuracy", "labelAngle": -90, "labelAlign": "center", "labelBaseline": "alphabetic", "labelPadding": 8, "titlePadding": 10}},
    "color": {"field": "t", "type": "nominal", "scale": {"domain": ["t=0.0 (no noise)", "t=0.3 (moderate noise)", "t=1.0 (only noise)"], "range": ["#4DAF4A", "#377EB8", "#E41A1C"]},
      "legend": {"orient": "none", "legendX": 38, "legendY": 168, "title": null, "symbolType": "M-2,0H2", "symbolSize": 169, "symbolOffset": 6, "symbolStrokeWidth": 1, "labelFontSize": 15.5, "labelFont": "Liberation Sans", "labelColor": "black", "labelOffset": 17, "rowPadding": 1.5, "padding": 12, "fillColor": "white", "strokeColor": "black", "labelLimit": 400}}
  },
  "layer": [
    {"transform": [{"filter": {"field": "t", "equal": "t=0.0 (no noise)"}}], "mark": {"type": "line", "clip": true, "interpolate": "monotone", "strokeWidth": 1.3}},
    {"transform": [{"filter": {"field": "t", "oneOf": ["t=0.3 (moderate noise)", "t=1.0 (only noise)"]}}], "mark": {"type": "line", "clip": true, "interpolate": "monotone", "strokeWidth": 1.8}}
  ]
}
],
"bounds": "flush",
"spacing": 74,
"resolve": {"legend": {"color": "independent"}, "scale": {"color": "independent"}}
}
